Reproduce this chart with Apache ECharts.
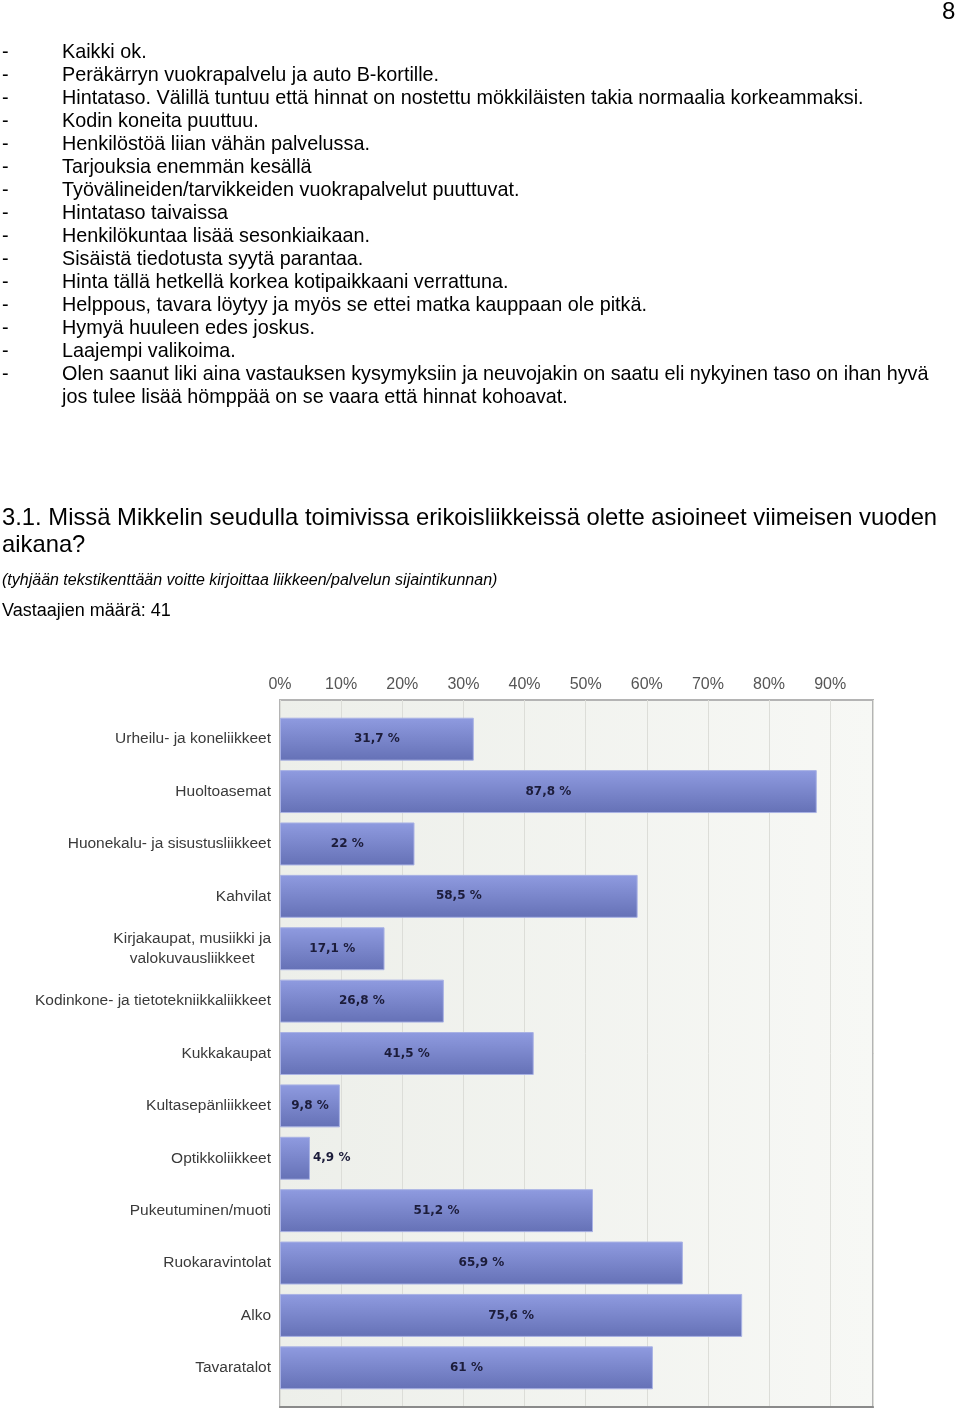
<!DOCTYPE html>
<html>
<head>
<meta charset="utf-8">
<script src="https://cdn.jsdelivr.net/npm/echarts@6/dist/echarts.min.js"></script>
<style>
html,body{margin:0;padding:0;background:#fff;}
#c{width:960px;height:1413px;}
</style>
</head>
<body>
<div id="c"></div>
<script>
const pageNumber = '8';
const bulletLines = [
  'Kaikki ok.',
  'Peräkärryn vuokrapalvelu ja auto B-kortille.',
  'Hintataso. Välillä tuntuu että hinnat on nostettu mökkiläisten takia normaalia korkeammaksi.',
  'Kodin koneita puuttuu.',
  'Henkilöstöä liian vähän palvelussa.',
  'Tarjouksia enemmän kesällä',
  'Työvälineiden/tarvikkeiden vuokrapalvelut puuttuvat.',
  'Hintataso taivaissa',
  'Henkilökuntaa lisää sesonkiaikaan.',
  'Sisäistä tiedotusta syytä parantaa.',
  'Hinta tällä hetkellä korkea kotipaikkaani verrattuna.',
  'Helppous, tavara löytyy ja myös se ettei matka kauppaan ole pitkä.',
  'Hymyä huuleen edes joskus.',
  'Laajempi valikoima.',
  'Olen saanut liki aina vastauksen kysymyksiin ja neuvojakin on saatu eli nykyinen taso on ihan hyvä\njos tulee lisää hömppää on se vaara että hinnat kohoavat.'
];
const titleText = '3.1. Missä Mikkelin seudulla toimivissa erikoisliikkeissä olette asioineet viimeisen vuoden\naikana?';
const noteText = '(tyhjään tekstikenttään voitte kirjoittaa liikkeen/palvelun sijaintikunnan)';
const countText = 'Vastaajien määrä: 41';

const categories = [
  'Urheilu- ja koneliikkeet',
  'Huoltoasemat',
  'Huonekalu- ja sisustusliikkeet',
  'Kahvilat',
  'Kirjakaupat, musiikki ja\nvalokuvausliikkeet',
  'Kodinkone- ja tietotekniikkaliikkeet',
  'Kukkakaupat',
  'Kultasepänliikkeet',
  'Optikkoliikkeet',
  'Pukeutuminen/muoti',
  'Ruokaravintolat',
  'Alko',
  'Tavaratalot'
];
const values = [31.7, 87.8, 22, 58.5, 17.1, 26.8, 41.5, 9.8, 4.9, 51.2, 65.9, 75.6, 61];
const tickLabels = ['0%','10%','20%','30%','40%','50%','60%','70%','80%','90%'];

const TEXT_FONT = '"Liberation Sans", Arial, sans-serif';
const graphics = [];
graphics.push({type:'text', x: 942, y: 0, style:{text: pageNumber, font: '24px ' + TEXT_FONT, fill:'#000'}});
let y = 41;
bulletLines.forEach(function(t){
  graphics.push({type:'text', x: 2, y: y, style:{text:'-', font:'19.8px ' + TEXT_FONT, fill:'#000', lineHeight: 23}});
  graphics.push({type:'text', x: 62, y: y, style:{text:t, font:'19.8px ' + TEXT_FONT, fill:'#000', lineHeight: 23}});
  y += 23 * t.split('\n').length;
});
graphics.push({type:'text', x: 2, y: 505, style:{text:titleText, font:'23.8px ' + TEXT_FONT, fill:'#000', lineHeight: 27}});
graphics.push({type:'text', x: 2, y: 573, style:{text:noteText, font:'italic 16px ' + TEXT_FONT, fill:'#000'}});
graphics.push({type:'text', x: 2, y: 602, style:{text:countText, font:'18px ' + TEXT_FONT, fill:'#000'}});

function fmt(v){ return String(v).replace('.', ',') + ' %'; }

const chart = echarts.init(document.getElementById('c'), null, {renderer:'canvas'});
chart.setOption({
  animation: false,
  backgroundColor: '#fff',
  graphic: graphics,
  grid: [
    {left: 280, right: 87, top: 700, bottom: 6, show: true,
     backgroundColor: new echarts.graphic.LinearGradient(0,0,1,0,[{offset:0,color:'#edefea'},{offset:1,color:'#f7f8f5'}]),
     borderColor: '#b4b4b4', borderWidth: 2},
    {left: 280, right: 87, top: 713, bottom: 19}
  ],
  xAxis: [
    {gridIndex: 0, type: 'value', position: 'top', min: 0, max: 97, interval: 10,
     axisLine: {show: true, lineStyle: {color: '#8a8a8a', width: 2}},
     axisTick: {show: false},
     splitLine: {show: true, lineStyle: {color: '#dcddd8', width: 1}},
     axisLabel: {show: true, showMaxLabel: false, margin: 7, color: '#555',
       fontSize: 16, fontFamily: '"Liberation Sans", Arial, sans-serif',
       formatter: function(v){ return tickLabels[Math.round(v/10)] || ''; }}},
    {gridIndex: 1, type: 'value', min: 0, max: 97, show: false}
  ],
  yAxis: [
    {gridIndex: 0, type: 'value', show: false},
    {gridIndex: 1, type: 'category', data: categories, inverse: true,
     axisLine: {show: false}, axisTick: {show: false},
     axisLabel: {margin: 9, color: '#3a3a3a', fontSize: 15.5,
       fontFamily: '"Liberation Sans", Arial, sans-serif',
       formatter: function(v){ return v.split('\n').map(function(l){return '{c|' + l + '}';}).join('\n'); },
       rich: {c: {align: 'center', fontSize: 15.5, color: '#3a3a3a', lineHeight: 20,
                  fontFamily: '"Liberation Sans", Arial, sans-serif'}}}}
  ],
  series: [{
    type: 'bar', xAxisIndex: 1, yAxisIndex: 1, barWidth: '82%',
    data: values.map(function(v){
      return {value: v, label: {position: v < 5 ? 'right' : 'inside', distance: 3}};
    }),
    itemStyle: {
      color: new echarts.graphic.LinearGradient(0,0,0,1,[{offset:0,color:'#8f9be0'},{offset:1,color:'#6571b6'}]),
      borderColor: '#a9b2e4', borderWidth: 1
    },
    label: {show: true, color: '#1c1c3a', fontSize: 12, fontWeight: 'bold',
      fontFamily: '"DejaVu Sans", Verdana, sans-serif',
      formatter: function(p){ return fmt(p.value); }}
  }]
});
</script>
</body>
</html>
